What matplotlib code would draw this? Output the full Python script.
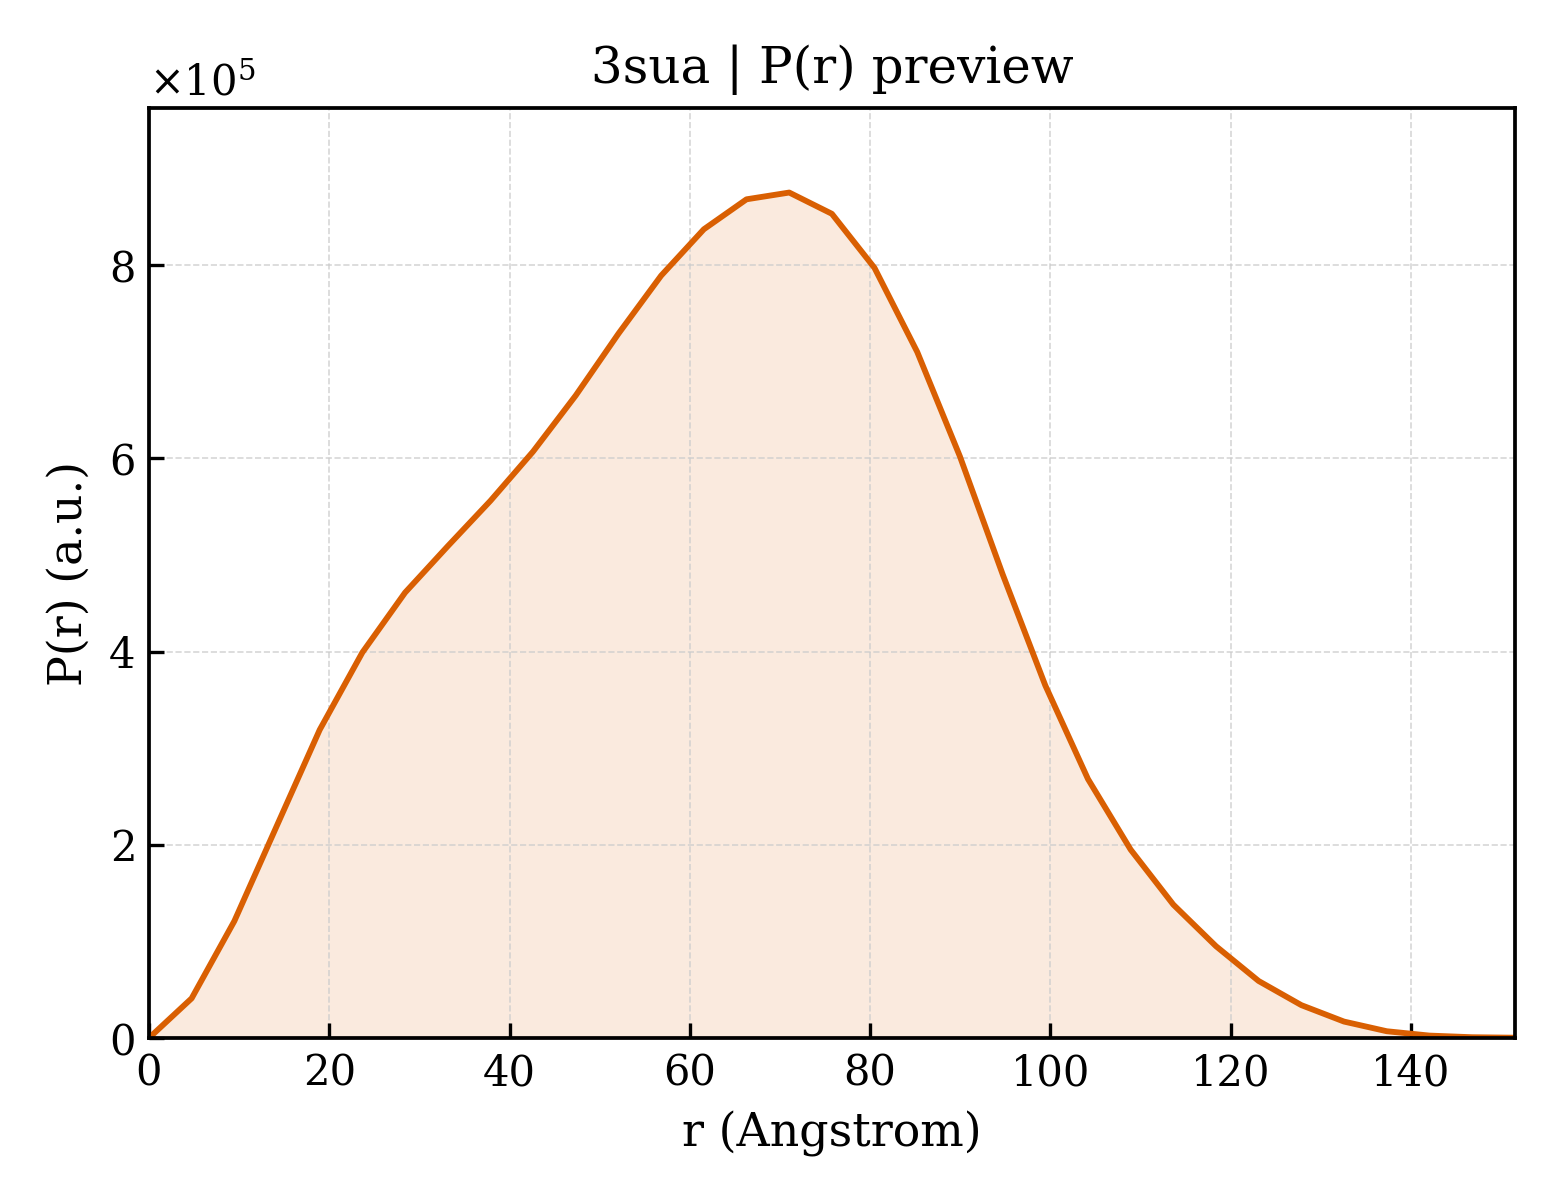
import matplotlib
matplotlib.use('Agg')
import matplotlib.pyplot as plt

# P(r) distribution
r_values = [0.0, 4.73, 9.47, 14.2, 18.94, 23.67, 28.41, 33.14, 37.88, 42.61, 47.34,
            52.08, 56.81, 61.55, 66.28, 71.02, 75.75, 80.48, 85.22, 89.95, 94.69,
            99.42, 104.16, 108.89, 113.63, 118.36, 123.09, 127.83, 132.56, 137.3,
            142.03, 146.77, 151.5]
pr_values = [0.0, 0.41, 1.21, 2.2, 3.19, 3.99, 4.61, 5.09, 5.56, 6.07, 6.65,
             7.29, 7.89, 8.37, 8.68, 8.75, 8.53, 7.97, 7.10, 6.02, 4.80,
             3.65, 2.68, 1.95, 1.38, 0.95, 0.59, 0.34, 0.17, 0.07,
             0.025, 0.008, 0.003]
pr_values = [v * 1e5 for v in pr_values]

title = '3sua | P(r) preview'
x_label = 'r (Angstrom)'
y_label = 'P(r) (a.u.)'
color = '#d95f02'

plt.rcParams['font.family'] = 'DejaVu Serif'
plt.rcParams['mathtext.fontset'] = 'dejavuserif'

fig = plt.figure(figsize=(5.2, 4), dpi=300)
ax = fig.add_axes([0.0955, 0.135, 0.8755, 0.775])

ax.fill_between(r_values, pr_values, 0, color=color, alpha=0.13, linewidth=0)
ax.plot(r_values, pr_values, '-', color=color, linewidth=1.4)

ax.set_xlim(0, r_values[-1])
ax.set_ylim(0, max(pr_values) * 1.1)
ax.set_title(title, fontsize=12)
ax.set_xlabel(x_label, fontsize=11)
ax.set_ylabel(y_label, fontsize=11)
ax.ticklabel_format(axis='y', style='sci', scilimits=(0, 0), useMathText=True)
ax.yaxis.get_offset_text().set_fontsize(10)
ax.tick_params(direction='in', labelsize=10, width=0.8, length=3.5)
ax.grid(True, linestyle='--', linewidth=0.4, color='#cccccc', alpha=0.8)
for spine in ax.spines.values():
    spine.set_linewidth(0.9)

fig.savefig('out.png', dpi=300)
